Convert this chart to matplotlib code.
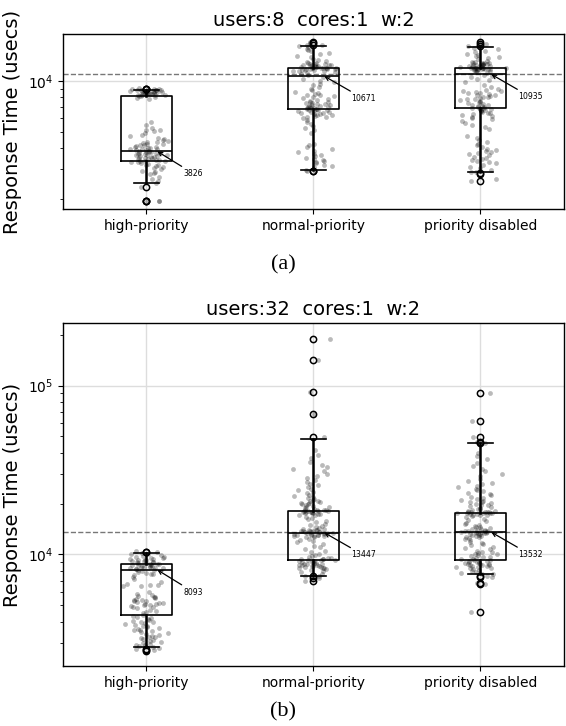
import numpy as np
import matplotlib
matplotlib.use('Agg')
import matplotlib.pyplot as plt
from matplotlib.ticker import NullFormatter

categories = ['high-priority', 'normal-priority', 'priority disabled']
titles = ['users:8  cores:1  w:2', 'users:32  cores:1  w:2']
panel_labels = ['(a)', '(b)']
ylabel = 'Response Time (usecs)'

# ---------------- panel (a): box statistics ----------------
med_a = [3826, 10671, 10935]
q1_a = [3342, 6810, 6900]
q3_a = [8143, 11950, 11950]
lo_a = [2483, 2967, 2900]
hi_a = [8850, 16000, 15850]
fl_a = [[8925, 8950, 8980, 2352, 1957, 1950, 1945],
        [16300, 16700, 17000, 2950, 2930],
        [16200, 16600, 17000, 2860, 2820, 2570]]

# ---------------- panel (b): box statistics ----------------
med_b = [8093, 13447, 13532]
q1_b = [4380, 9208, 9208]
q3_b = [8720, 18080, 17700]
lo_b = [2817, 7460, 7600]
hi_b = [10200, 48000, 45600]
fl_b = [[10300, 10350, 2740, 2700, 2680],
        [49300, 67700, 91500, 141000, 190000, 7400, 7200, 7000],
        [45800, 46500, 49300, 61700, 90300, 7450, 7380, 6800, 6680, 4585]]

# ---------------- panel (a): individual samples ----------------
hp_a = [7800, 7950, 8050, 8100, 8150, 8200, 8230, 8260, 8300, 8330, 8360, 8400,
        8420, 8450, 8480, 8500, 8520, 8550, 8580, 8600, 8620, 8650, 8680, 8700,
        8720, 8750, 8780, 8800, 8830, 8850, 8870, 8900, 8920, 8950, 9000, 9100,
        4950, 5050, 5150, 5150, 5300, 5450, 5700,
        4800, 4700, 4600, 4550, 4480, 4420, 4380, 4330, 4290, 4250, 4210, 4180,
        4150, 4120, 4090, 4060, 4030, 4000, 3980, 3950, 3930, 3900, 3880, 3860,
        3840, 3820, 3800, 3780, 3760, 3740, 3720, 3700, 3680, 3660, 3640, 3620,
        3600, 3580, 3560, 3540, 3520, 3500, 3480, 3460, 3440, 3420, 3400, 3380,
        3360, 3340, 3320, 3300, 3270, 3240, 3200, 3160, 3120, 3080, 3040, 3000,
        2950, 2900, 2850, 2800, 2700, 2620, 2550, 2483, 2352, 1957, 1950, 1945]
np_a = [16400, 16100, 15800, 15500, 15200, 15000, 14700, 14400, 14100, 13800,
        13500, 13300, 13100, 12900,
        12800, 12700, 12650, 12600, 12550, 12500, 12450, 12400, 12350, 12300,
        12250, 12200, 12150, 12100, 12050, 12000, 11980, 11950, 11920, 11900,
        11870, 11850, 11820, 11800, 11750, 11700, 11650, 11600, 11550, 11500,
        11450, 11400, 11300, 11200,
        11000, 10800, 10500, 10300, 10000, 9800, 9600, 9400,
        9200, 9000, 8800, 8650, 8500, 8400, 8300, 8200, 8100, 8000, 7900, 7800,
        7700, 7600, 7550, 7500, 7450, 7400, 7350, 7300, 7250, 7200, 7150, 7100,
        7050, 7000, 6970, 6940, 6910, 6880, 6850, 6820, 6790, 6760, 6730, 6700,
        6660, 6620, 6580, 6540, 6500, 6450, 6400, 6350, 6300, 6250, 6200, 6150,
        6100, 6000,
        5850, 5700, 5550, 5400, 5250, 5100, 4950,
        4250, 4150, 4050, 3950, 3850, 3780, 3700, 3640, 3580, 3520, 3460, 3400,
        3350, 3300, 3250, 3200, 3150, 3100,
        2970, 2950, 2930, 16300, 16700, 17000]
pd_a = [15700, 15400, 15100, 14800, 14500, 14300, 14000, 13800, 13600, 13400,
        13200, 13000, 12900, 12850,
        12800, 12750, 12700, 12650, 12600, 12550, 12500, 12450, 12400, 12350,
        12300, 12250, 12200, 12150, 12100, 12050, 12000, 11980, 11950, 11920,
        11900, 11870, 11850, 11820, 11800, 11770, 11740, 11700, 11650, 11600,
        11550, 11500, 11450, 11400,
        11100, 10900, 10700, 10500, 10300, 10100, 9800, 9500, 9200, 8950,
        8850, 8750, 8680, 8600, 8520, 8450, 8380, 8300, 8220, 8150, 8080, 8000,
        7920, 7850, 7780, 7700, 7620, 7550, 7470, 7400, 7320, 7250, 7180, 7100,
        7060, 7020, 6980, 6940, 6900, 6860, 6820, 6780, 6740, 6700, 6650, 6600,
        6550, 6500, 6420, 6350, 6280, 6200, 6120, 6050,
        5950, 5800, 5650, 5500, 5350, 5200,
        4750, 4600, 4480, 4350, 4250, 4150, 4050, 3980, 3900, 3850, 3800, 3740,
        3680, 3620, 3560, 3500, 3450, 3400, 3350, 3300, 3250, 3180, 3100, 3040,
        2980, 2900, 2880, 2620, 2570, 16200, 16600, 17000]

# ---------------- panel (b): individual samples ----------------
hp_b = [10500, 10300, 10200, 10100, 10000, 9900, 9800, 9700, 9620, 9550, 9480,
        9420, 9360, 9300, 9250, 9200, 9150, 9100, 9050, 9000, 8950, 8900, 8860,
        8820, 8780, 8740, 8700, 8660, 8620, 8580, 8540, 8500, 8460, 8420, 8380,
        8340, 8300, 8250, 8200, 8150, 8100, 8050, 8000, 7900, 7800, 7700, 7600,
        7500, 7300, 7100,
        6900, 6700, 6550, 6540, 6530, 6520,
        5950, 5850, 5750, 5680, 5620, 5560, 5500, 5450, 5400, 5350, 5300, 5260,
        5220, 5180, 5140, 5100, 5060, 5020, 4980, 4940, 4900, 4850,
        4780, 4700, 4620, 4550, 4480, 4400, 4330, 4260,
        4200, 4150, 4100, 4050, 4000, 3950, 3900, 3860, 3820, 3780, 3740, 3700,
        3660, 3620, 3580, 3540, 3500, 3460, 3420, 3380, 3340, 3300, 3260, 3220,
        3180, 3140, 3100, 3060, 3020, 2980, 2950, 2920, 2890, 2860, 2830, 2800,
        2740, 2700]
np_b = [41500, 39000, 37000, 35500, 34000, 33000, 32000, 31000, 30000, 29000,
        28300, 27600, 27000, 26300, 25600,
        25000, 24500, 24000, 23500, 23000, 22600, 22200, 21800, 21500, 21200,
        21000, 20800, 20600, 20400, 20200, 20100, 20000, 19800, 19600, 19400,
        19200, 19000, 18800, 18600, 18400,
        18300, 18250, 18200, 18150, 18100, 18050, 18000, 17950, 17900, 17850,
        17800, 17700, 17600, 17500, 17400, 17300, 17200,
        17000, 16700, 16400, 16100, 15800, 15500, 15200, 15000, 14800, 14600, 14400,
        14200, 14100, 14000, 13950, 13900, 13850, 13800, 13750, 13700, 13650,
        13600, 13550, 13500, 13450, 13400, 13350, 13300, 13250, 13200, 13150,
        13100, 13050, 13000, 12950, 12900, 12850, 12800, 12750,
        12600, 12400, 12200, 12000, 11800, 11500, 11200, 11000, 10800, 10500,
        10300, 10100, 9900, 9750,
        9600, 9550, 9500, 9450, 9400, 9350, 9300, 9250, 9200, 9150, 9100, 9050,
        9000, 8950, 8900, 8850, 8800, 8760, 8720, 8680, 8640, 8600, 8560, 8520,
        8480, 8440, 8400, 8350, 8300, 8250, 8200, 8100, 8000, 7850, 7700,
        7460, 7400, 7200, 7000, 49300, 67700, 91500, 141000, 190000]
pd_b = [40000, 38500, 36500, 35000, 33500, 32000,
        31000, 30000, 29000, 28000, 27200, 26500, 26000, 25500, 25000, 24500,
        24000, 23600, 23200, 22800, 22400, 22000, 21700, 21400, 21100, 20800,
        20500, 20300, 20100, 19900, 19700, 19500, 19300, 19100, 18900, 18700,
        18500, 18300, 18100,
        18000, 17950, 17900, 17850, 17800, 17750, 17700, 17650, 17600, 17550,
        17500, 17400, 17300, 17200, 17100, 17000, 16900,
        16600, 16300, 16000, 15700, 15400, 15100, 14900,
        14800, 14600, 14450, 14300, 14200, 14100, 14000, 13900, 13850, 13800,
        13750, 13700, 13650, 13600, 13550, 13500, 13450, 13400, 13350, 13300,
        13250, 13200, 13100, 13000, 12900, 12800, 12700, 12600, 12500,
        12300, 12100, 11900, 11700, 11500, 11300, 11100, 10900, 10700, 10500, 10350,
        10300, 10200, 10100, 10000, 9900, 9800, 9700, 9600, 9500, 9420, 9350,
        9280, 9220, 9160, 9100, 9050, 9000, 8950, 8900, 8850, 8800, 8760, 8720,
        8680, 8640, 8600, 8550, 8500, 8450, 8400, 8350, 8300, 8200, 8100, 8000,
        7900, 7800, 7700,
        7600, 7450, 7380, 6800, 6680, 4585, 45800, 46500, 49300, 61700, 90300]

panels = [
    dict(title=titles[0], label=panel_labels[0], med=med_a, q1=q1_a, q3=q3_a,
         lo=lo_a, hi=hi_a, fl=fl_a, pts=[hp_a, np_a, pd_a]),
    dict(title=titles[1], label=panel_labels[1], med=med_b, q1=q1_b, q3=q3_b,
         lo=lo_b, hi=hi_b, fl=fl_b, pts=[hp_b, np_b, pd_b]),
]


def _scramble(i, a):
    v = np.sin(i * a + 0.37) * 43758.5453
    return v - np.floor(v)


def jitter(n, seed):
    # deterministic horizontal scatter of the strip points (layout only)
    i = np.arange(n) + seed * 1000.0
    u = _scramble(i, 12.9898) + _scramble(i, 78.233) + _scramble(i, 39.3467)
    return (u - 1.5) * 0.11


fig = plt.figure(figsize=(5.66, 7.26), dpi=100)
ax_rects = [[0.1113, 0.7121, 0.8851, 0.2410], [0.1113, 0.0820, 0.8851, 0.4731]]
label_y = [0.635, 0.019]

positions = [1, 2, 3]
for pi, (p, rect, ly) in enumerate(zip(panels, ax_rects, label_y)):
    ax = fig.add_axes(rect)
    ax.set_yscale('log')
    for k, vals in enumerate(p['pts']):
        v = np.asarray(vals, dtype=float)
        ax.scatter(positions[k] + jitter(len(v), pi * 3 + k + 1), v, s=12,
                   color='black', alpha=0.27, linewidths=0, zorder=2)
    stats = []
    for k, cat in enumerate(categories):
        stats.append(dict(med=p['med'][k], q1=p['q1'][k], q3=p['q3'][k],
                          whislo=p['lo'][k], whishi=p['hi'][k],
                          fliers=p['fl'][k], label=cat))
    ax.bxp(stats, positions=positions, widths=0.3, showfliers=True,
           boxprops=dict(color='black', lw=1.2),
           whiskerprops=dict(color='black', lw=1.8),
           capprops=dict(color='black', lw=1.2),
           medianprops=dict(color='black', lw=1.2),
           flierprops=dict(marker='o', markerfacecolor='none',
                           markeredgecolor='black', markersize=4.5,
                           markeredgewidth=1.1),
           zorder=3)
    ax.axhline(p['med'][2], ls='--', color='#777777', lw=1, zorder=1.5)
    for k in range(3):
        ax.annotate(str(p['med'][k]), xy=(positions[k] + 0.065, p['med'][k]),
                    xytext=(19, -16), textcoords='offset points',
                    ha='left', va='center', fontsize=5.6,
                    arrowprops=dict(arrowstyle='->', color='black', lw=0.9,
                                    shrinkA=0, shrinkB=0, mutation_scale=7),
                    zorder=4)
    ax.set_xlim(0.5, 3.5)
    ax.set_xticks(positions)
    ax.set_xticklabels(categories, fontsize=10)
    ax.yaxis.set_minor_formatter(NullFormatter())
    ax.tick_params(axis='y', labelsize=10)
    ax.grid(True, which='major', color='#dddddd', lw=1)
    ax.set_axisbelow(True)
    for s in ax.spines.values():
        s.set_color('black')
        s.set_linewidth(1.0)
    ax.set_title(p['title'], fontsize=14)
    ax.set_ylabel(ylabel, fontsize=14)
    fig.text(0.5, ly, p['label'], family='Liberation Serif', fontsize=16,
             ha='center', va='center')

fig.savefig('out.png', dpi=100)
